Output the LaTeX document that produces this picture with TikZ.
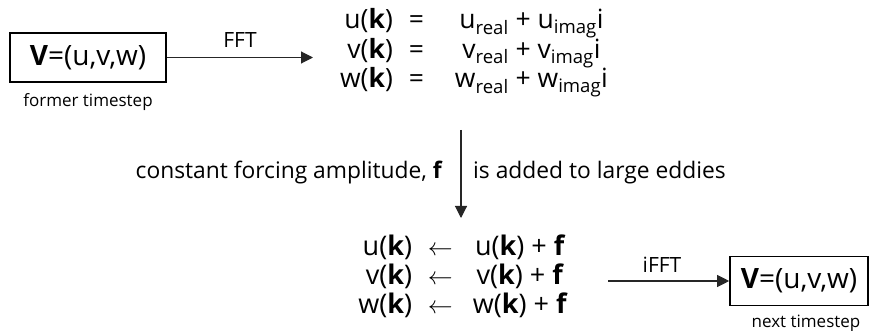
\documentclass[tikz,border=0pt]{standalone}
\usepackage{fontspec}
\setmainfont{Open Sans}
\usetikzlibrary{arrows.meta}
\begin{document}
\begin{tikzpicture}[x=1pt,y=-1pt,
  conn/.style={draw=black!85, line width=1.1pt, -{Triangle[length=12pt,width=12pt]}},
  vbox/.style={draw=black, line width=1.6pt, inner sep=0pt, minimum height=49pt,
    font=\fontsize{28}{32}\selectfont},
  caption/.style={inner sep=0pt, font=\fontsize{17}{20}\selectfont},
  opname/.style={inner sep=0pt, font=\fontsize{21}{24}\selectfont},
  eqtop/.style={inner sep=0pt, font=\fontsize{26.5}{28}\selectfont},
  eqbot/.style={inner sep=0pt, font=\fontsize{27}{27}\selectfont},
  note/.style={inner sep=0pt, font=\fontsize{22.8}{26}\selectfont},
]
\useasboundingbox (0,0) rectangle (878,331);

% velocity field at the former time step
\node[vbox, minimum width=156pt] (lbox) at (88,57.5) {\textbf{V}=(u,v,w)};
\node[caption] (lcap) at (88,102) {former timestep};

% spectral components
\node[eqtop] (topeq) at (474,53) {%
  \begin{tabular}{@{}r@{\hspace{16pt}}c@{\hspace{31pt}}c@{}}
    u(\textbf{k}) & = & u\textsubscript{real} + u\textsubscript{imag}i\\
    v(\textbf{k}) & = & v\textsubscript{real} + v\textsubscript{imag}i\\
    w(\textbf{k}) & = & w\textsubscript{real} + w\textsubscript{imag}i
  \end{tabular}};

% forcing step
\coordinate (vtop) at (461,130);
\coordinate (vbot) at (461,218);
\node[note, anchor=east] (fleft) at (443,173) {constant forcing amplitude, \textbf{f}};
\node[note, anchor=west] (fright) at (473,173) {is added to large eddies};

% forced components
\node[eqbot] (boteq) at (463,278) {%
  \begin{tabular}{@{}r@{\hspace{16pt}}c@{\hspace{20pt}}c@{}}
    u(\textbf{k}) & $\leftarrow$ & u(\textbf{k}) + \textbf{f}\\
    v(\textbf{k}) & $\leftarrow$ & v(\textbf{k}) + \textbf{f}\\
    w(\textbf{k}) & $\leftarrow$ & w(\textbf{k}) + \textbf{f}
  \end{tabular}};

% velocity field at the next time step
\node[vbox, minimum width=138pt] (rbox) at (799,281) {\textbf{V}=(u,v,w)};
\node[caption] (rcap) at (806,323) {next timestep};
\coordinate (istart) at (608,281);
\coordinate (fftend) at (313,0);

% transforms
\draw[conn] (lbox.east) -- (lbox.east -| fftend);
\node[opname] (fft) at (240,40) {FFT};
\draw[conn] (vtop) -- (vbot);
\draw[conn] (istart) -- (rbox.west);
\node[opname] (ifft) at (662,265) {iFFT};
\end{tikzpicture}
\end{document}
